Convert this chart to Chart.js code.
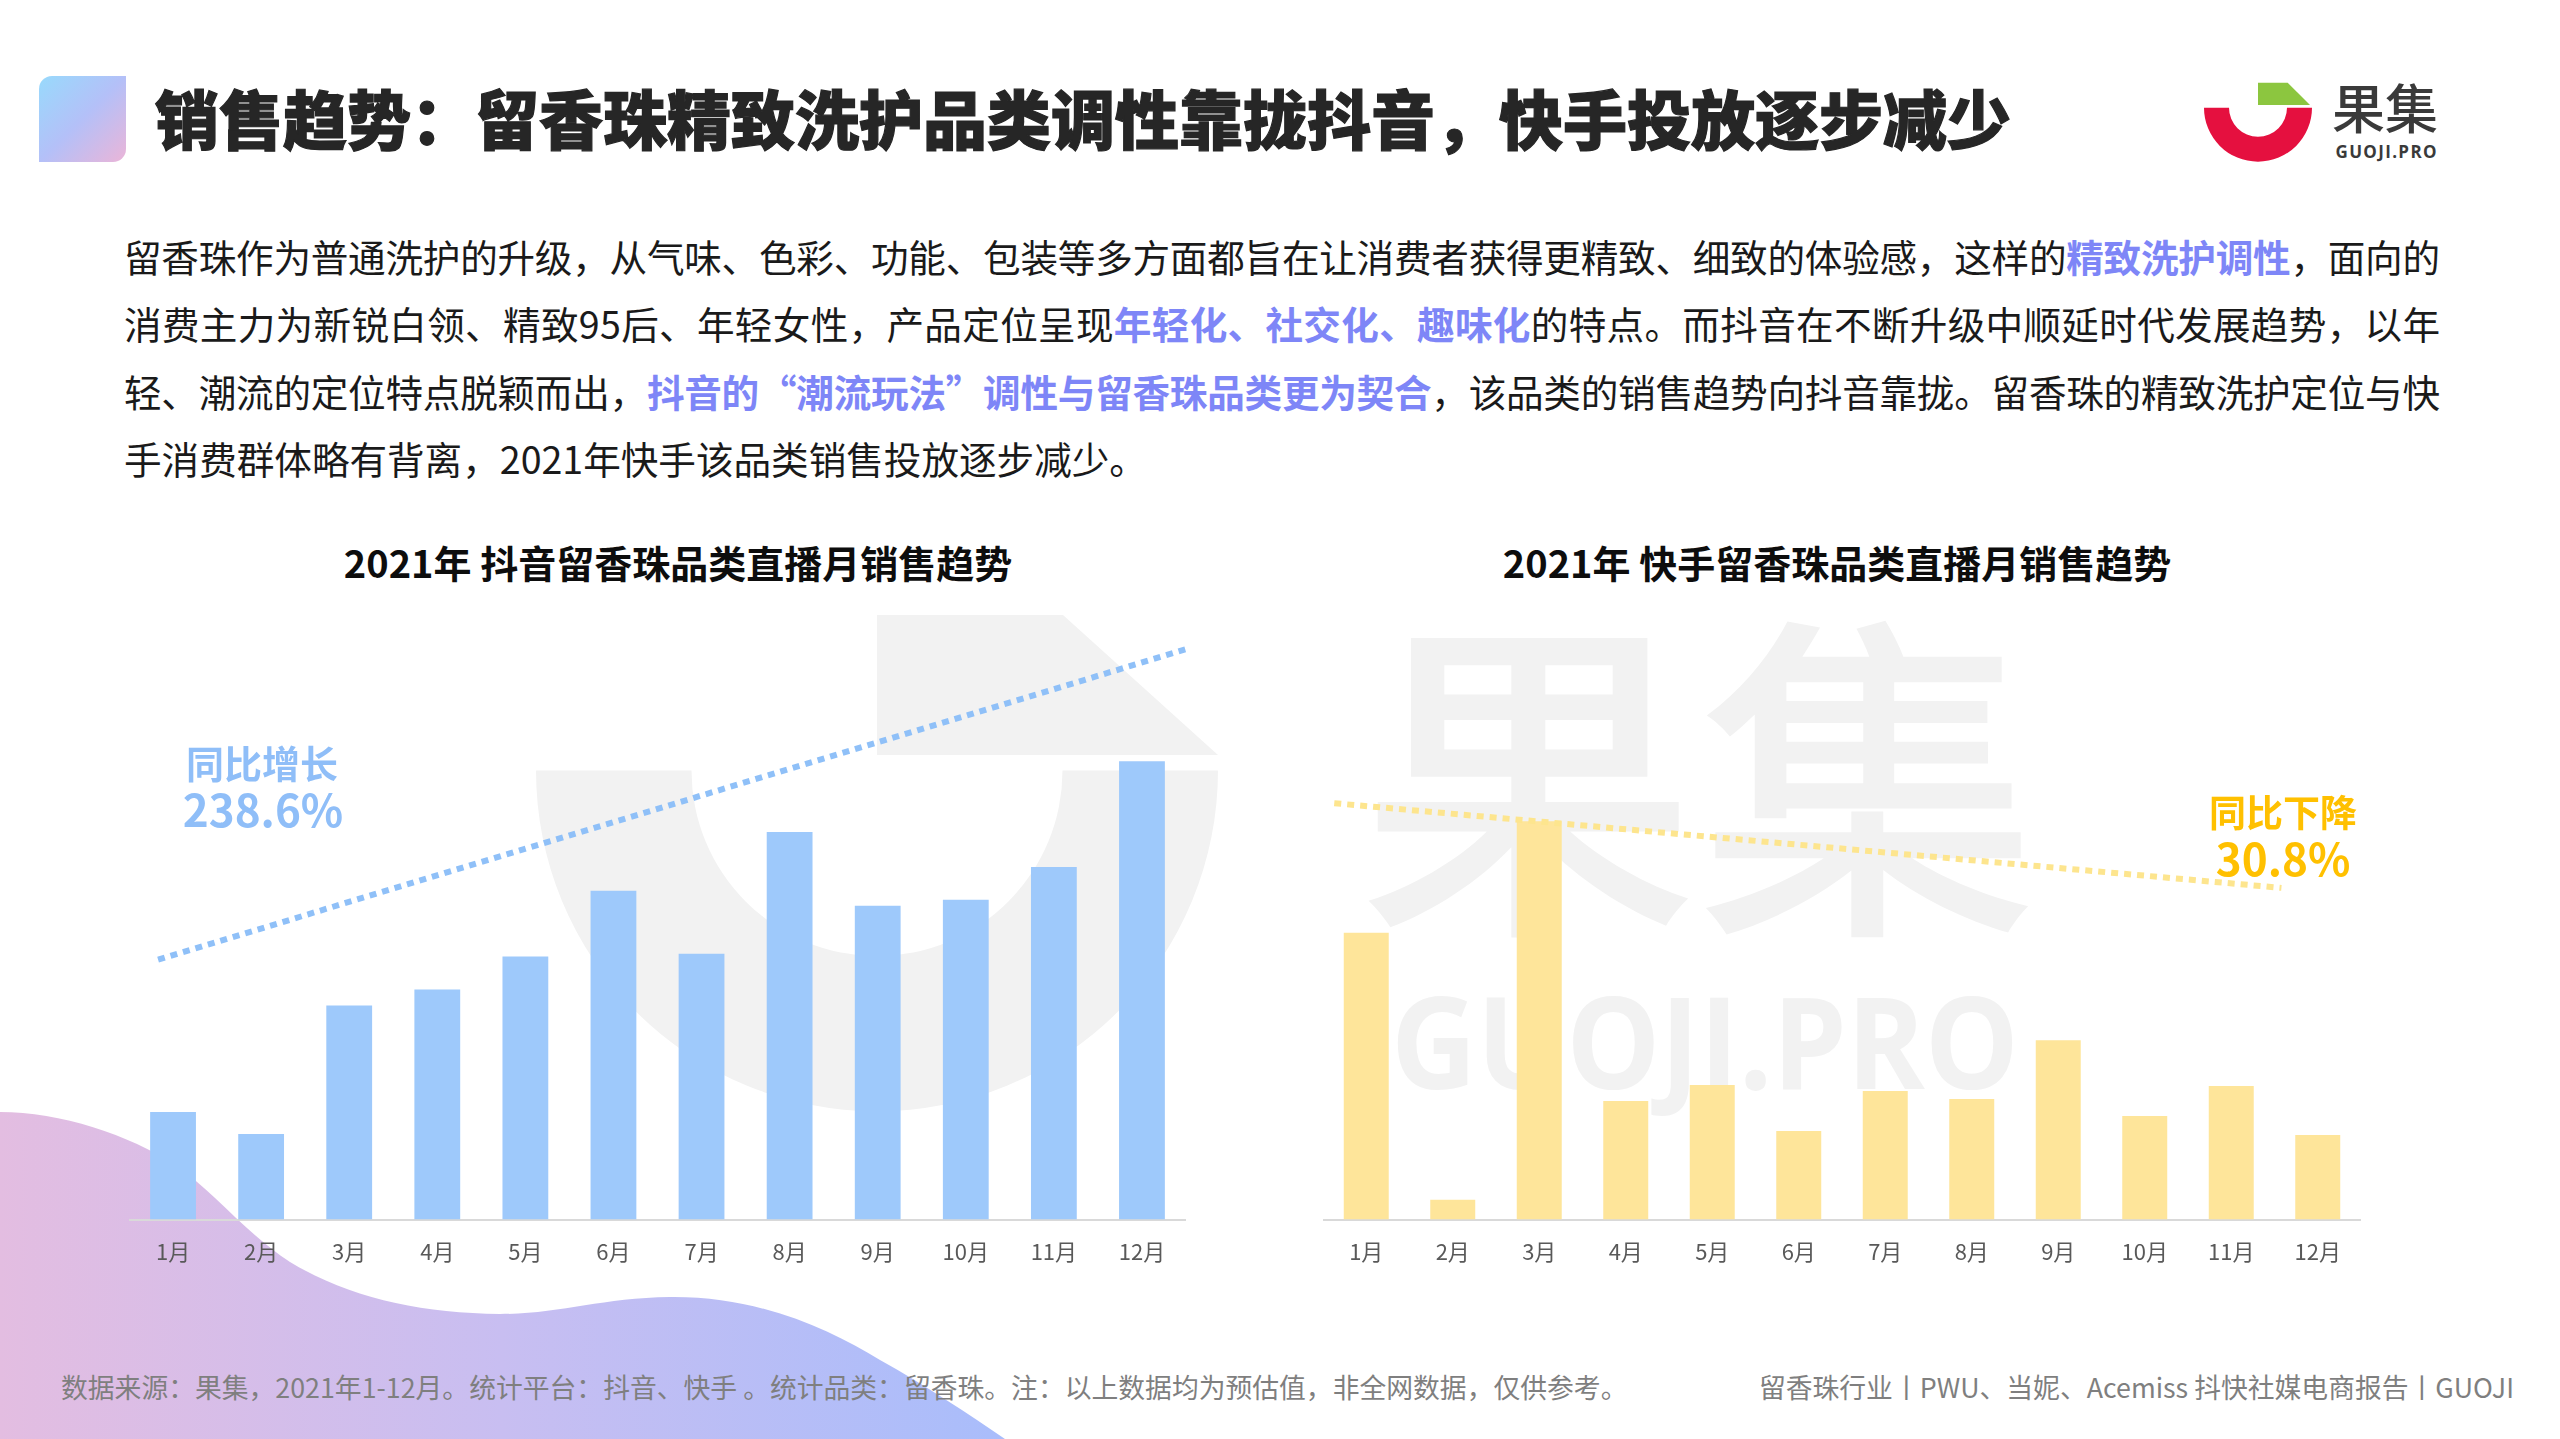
<!DOCTYPE html>
<html lang="zh-CN">
<head>
<meta charset="utf-8">
<title>留香珠销售趋势</title>
<script src="https://cdn.jsdelivr.net/npm/chart.js@4.4.1/dist/chart.umd.min.js"></script>
<style>
  html, body { margin: 0; padding: 0; }
  body {
    width: 2560px; height: 1439px; position: relative; overflow: hidden;
    background: #fff; font-family: "Noto Sans CJK SC", "Noto Sans", sans-serif;
  }
  #deco { position: absolute; left: 0; top: 0; z-index: 0; }
  .box { position: absolute; z-index: 1; }
  .txt { position: absolute; z-index: 2; white-space: nowrap; }
  #mark {
    position: absolute; left: 39px; top: 76px; width: 87px; height: 86px; z-index: 2;
    border-radius: 13px 0 13px 0;
    background: linear-gradient(135deg, #98dafc 0%, #b4c0f8 50%, #ebb5d8 100%);
  }
  #title {
    left: 155px; top: 84px; font-size: 64px; line-height: 64px; font-weight: 900;
    color: #262626; -webkit-text-stroke: 1.2px #262626;
  }
  #para { position: absolute; left: 124px; top: 222px; width: 2400px; z-index: 2; font-size: 37.6px; color: #1a1a1a; }
  #para div { height: 67.3px; line-height: 67.3px; white-space: nowrap; }
  #para b { color: #7e86f7; font-weight: 700; }
  .ctitle { width: 1000px; text-align: center; font-size: 38px; line-height: 40px; font-weight: 700; color: #0d0d0d; top: 542px; }
  .note { width: 300px; text-align: center; font-weight: 700; }
  .foot { font-size: 26.8px; line-height: 30px; color: #7f7f7f; top: 1372px; }
</style>
</head>
<body>

<svg id="deco" width="2560" height="1439" viewBox="0 0 2560 1439">
  <defs>
    <linearGradient id="blobGrad" x1="0" y1="0" x2="1005" y2="0" gradientUnits="userSpaceOnUse">
      <stop offset="0" stop-color="#e3bde1"/>
      <stop offset="0.5" stop-color="#c8bef1"/>
      <stop offset="1" stop-color="#a9bdfb"/>
    </linearGradient>
  </defs>
  <!-- watermark: logo shape behind left chart -->
  <path d="M536 770.5 A341 341 0 0 0 1218 770.5 L1062.5 770.5 A185.5 185.5 0 0 1 691.5 770.5 Z" fill="#f2f2f2"/>
  <polygon points="877,615 1063,615 1218,755 877,755" fill="#f2f2f2"/>
  <!-- watermark: text behind right chart -->
  <text x="1358" y="909" font-family="Noto Sans CJK SC" font-size="340" font-weight="500" fill="#f2f2f2">果集</text>
  <text x="1391" y="1089" font-family="Open Sans" font-size="128" font-weight="700" fill="#f2f2f2"
        textLength="628" lengthAdjust="spacingAndGlyphs">GUOJI.PRO</text>
  <!-- bottom-left wave -->
  <path d="M0 1112 C60 1112 130 1135 175 1165 C215 1192 245 1233 290 1262 C350 1298 420 1313 500 1314
           C560 1314 600 1298 670 1297 C760 1296 830 1330 880 1360 C925 1385 970 1415 1005 1439 L0 1439 Z"
        fill="url(#blobGrad)"/>
  <!-- logo -->
  <path d="M2204 107.7 A54 54 0 0 0 2312 107.7 L2287 107.7 A29 29 0 0 1 2229 107.7 Z" fill="#e5103f"/>
  <polygon points="2258,82.7 2287.7,82.7 2310,105 2258,105" fill="#8cc63f"/>
  <text x="2332" y="129" font-family="Noto Sans CJK SC" font-size="53" font-weight="500" fill="#3a3a3a">果集</text>
  <text x="2335.5" y="158.3" font-family="Open Sans" font-size="17" font-weight="700" fill="#3a3a3a"
        textLength="101" lengthAdjust="spacing">GUOJI.PRO</text>
</svg>

<div id="mark"></div>
<div id="title" class="txt">销售趋势：留香珠精致洗护品类调性靠拢抖音，快手投放逐步减少</div>

<div id="para">
  <div><span class="j">留香珠作为普通洗护的升级，从气味、色彩、功能、包装等多方面都旨在让消费者获得更精致、细致的体验感，这样的<b>精致洗护调性</b>，面向的</span></div>
  <div><span class="j">消费主力为新锐白领、精致95后、年轻女性，产品定位呈现<b>年轻化、社交化、趣味化</b>的特点。而抖音在不断升级中顺延时代发展趋势，以年</span></div>
  <div><span class="j">轻、潮流的定位特点脱颖而出，<b>抖音的“潮流玩法”调性与留香珠品类更为契合</b>，该品类的销售趋势向抖音靠拢。留香珠的精致洗护定位与快</span></div>
  <div><span>手消费群体略有背离，2021年快手该品类销售投放逐步减少。</span></div>
</div>

<div class="txt ctitle" style="left:178px;">2021年 抖音留香珠品类直播月销售趋势</div>
<div class="txt ctitle" style="left:1337px;">2021年 快手留香珠品类直播月销售趋势</div>

<div class="box" style="left:129px; top:600px; width:1057px; height:684px;"><canvas id="chartDouyin"></canvas></div>
<div class="box" style="left:1323px; top:600px; width:1038px; height:684px;"><canvas id="chartKuaishou"></canvas></div>

<div class="txt note" style="left:112px; top:740px; font-size:38px; line-height:44px; color:#8fbef8;">同比增长</div>
<div class="txt note" style="left:113px; top:783px; font-size:44px; line-height:50px; color:#8fbef8;">238.6%</div>
<div class="txt note" style="left:2133px; top:789px; font-size:37px; line-height:44px; color:#ffc000;">同比下降</div>
<div class="txt note" style="left:2133px; top:832px; font-size:44px; line-height:50px; color:#ffc000;">30.8%</div>

<div class="txt foot" style="left:61px;">数据来源：果集，2021年1-12月。统计平台：抖音、快手 。统计品类：留香珠。注：以上数据均为预估值，非全网数据，仅供参考。</div>
<div class="txt foot" style="right:46px;">留香珠行业丨PWU、当妮、Acemiss 抖快社媒电商报告丨GUOJI</div>

<script>
// 正文两端对齐：按行补字距
const paraWidth = 2316;
document.querySelectorAll('#para .j').forEach(span => {
    const n = span.textContent.length;
    const w = span.getBoundingClientRect().width;
    const gap = (paraWidth - w) / (n - 1);
    span.style.letterSpacing = gap + 'px';
});

// 月份
const months = ['1月', '2月', '3月', '4月', '5月', '6月', '7月', '8月', '9月', '10月', '11月', '12月'];

// 月销售（相对值，从图上估读）
const douyinSales = [108, 86, 215, 231, 264, 330, 267, 389, 315, 321, 354, 460];
const kuaishouSales = [288, 20, 400, 119, 135, 89, 129, 121, 180, 104, 134, 85];

// 趋势线两端 (x 为月份序号)
const douyinTrendX = [-0.17, 11.74];
const douyinTrendY = [261, 579];
const kuaishouTrendX = [-0.37, 10.58];
const kuaishouTrendY = [418, 333];

const yMax = 622;

const makeChart = (id, sales, trendX, trendY, barColor, lineColor) => {
    const ctx = document.getElementById(id).getContext('2d');
    return new Chart(ctx, {
        type: 'bar',
        data: {
            labels: months,
            datasets: [
                {
                    type: 'line',
                    data: trendX.map((x, i) => ({ x: x, y: trendY[i] })),
                    xAxisID: 'xt',
                    borderColor: lineColor,
                    borderWidth: 6,
                    borderDash: [7, 6],
                    pointRadius: 0,
                    fill: false,
                    clip: false,
                    order: 0
                },
                {
                    type: 'bar',
                    data: sales,
                    xAxisID: 'x',
                    backgroundColor: barColor,
                    grouped: false,
                    barPercentage: 0.52,
                    categoryPercentage: 1,
                    order: 1
                }
            ]
        },
        options: {
            responsive: true,
            maintainAspectRatio: false,
            animation: false,
            layout: { padding: 0 },
            plugins: { legend: { display: false }, tooltip: { enabled: false } },
            scales: {
                x: {
                    grid: { display: false, drawTicks: false },
                    border: { color: '#d9d9d9', width: 2 },
                    ticks: {
                        color: '#595959',
                        padding: 19,
                        maxRotation: 0,
                        font: { size: 22, family: '"Noto Sans CJK SC", sans-serif', lineHeight: 1.2 }
                    }
                },
                xt: { type: 'linear', display: false, offset: false, min: -0.5, max: 11.5 },
                y: { display: false, min: 0, max: yMax }
            }
        }
    });
}

makeChart('chartDouyin', douyinSales, douyinTrendX, douyinTrendY, '#9ec9fb', '#8fc0f8');
makeChart('chartKuaishou', kuaishouSales, kuaishouTrendX, kuaishouTrendY, '#fee59a', '#fde58e');
</script>
</body>
</html>
